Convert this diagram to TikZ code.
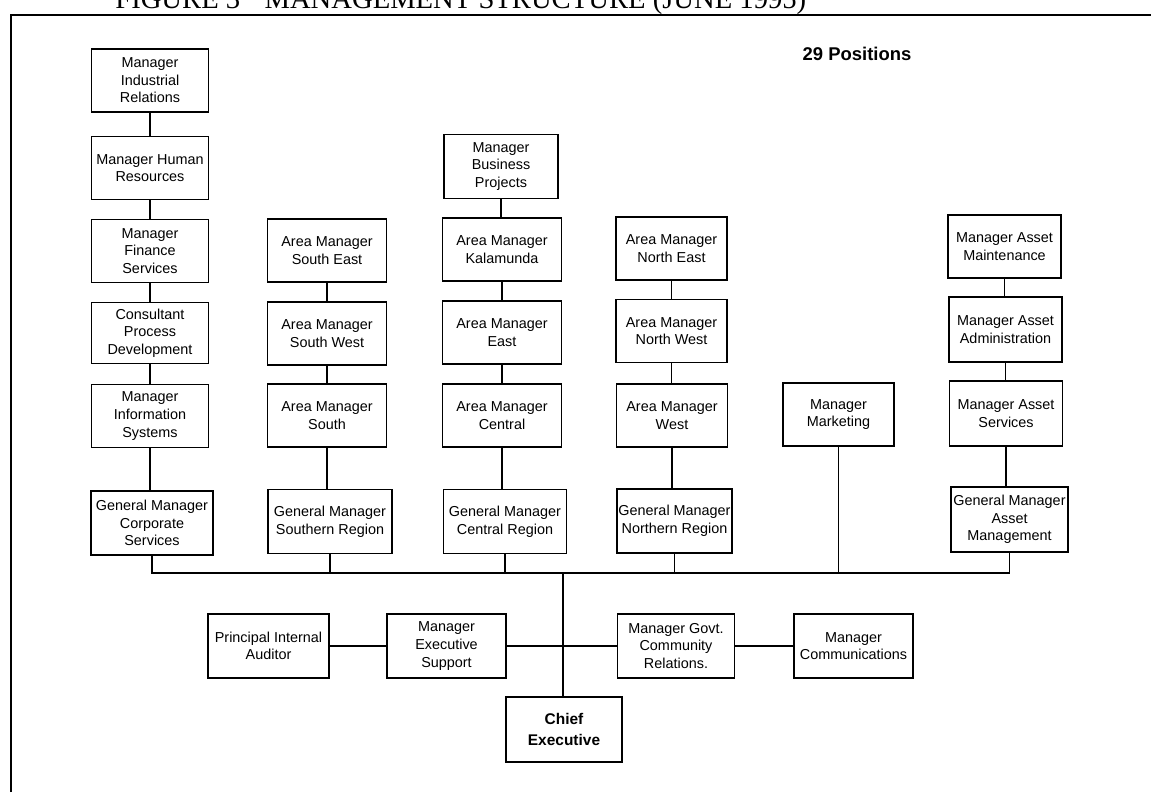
\documentclass[tikz,border=0pt]{standalone}
\usepackage{fontspec}
\setmainfont{Liberation Sans}
\newfontfamily\titlefont{Liberation Serif}

\begin{document}
\begin{tikzpicture}[x=0.02cm, y=-0.02cm,
        post/.style={draw, line width=1pt, align=center, inner sep=1pt, minimum width=2.36cm, minimum height=1.26cm, font=\fontsize{8.2}{10}\selectfont},
        wire/.style={line width=0.8pt}]
        \useasboundingbox (0, 0) rectangle (1151, 792);
        % Frame and headings:
        \draw[line width=1.4pt] (11, 792) -- (11, 15) -- (1151, 15);
        \node[anchor=base west, inner sep=0pt, font=\titlefont\fontsize{16.3}{18}\selectfont] (title) at (115, 8){FIGURE 3\hspace{0.6em} MANAGEMENT STRUCTURE (JUNE 1995)};
        \node[font=\fontsize{10.5}{12}\bfseries\selectfont] (count) at (857, 54){29 Positions};
        % Corporate services column:
        \node[post, minimum width=2.34cm] (ir) at (150, 80.5){Manager\\Industrial\\Relations};
        \node[post, minimum width=2.34cm] (hr) at (150, 168){Manager Human\\Resources};
        \node[post, minimum width=2.34cm] (fin) at (150, 251){Manager\\Finance\\Services};
        \node[post, minimum width=2.34cm, minimum height=1.22cm] (cpd) at (150, 333){Consultant\\Process\\Development};
        \node[post, minimum width=2.34cm] (mis) at (150, 416){Manager\\Information\\Systems};
        \node[post, minimum width=2.44cm, minimum height=1.28cm] (gmcs) at (152, 523){General Manager\\Corporate\\Services};
        % Southern region:
        \node[post, minimum width=2.38cm] (se) at (327, 250.5){Area Manager\\South East};
        \node[post, minimum width=2.38cm] (sw) at (327, 333.5){Area Manager\\South West};
        \node[post, minimum width=2.38cm] (so) at (327, 415.5){Area Manager\\South};
        \node[post, minimum width=2.48cm, minimum height=1.28cm] (gmsr) at (330, 521.5){General Manager\\Southern Region};
        % Central region:
        \node[post, minimum width=2.28cm, minimum height=1.28cm] (bp) at (501, 166.5){Manager\\Business\\Projects};
        \node[post, minimum width=2.38cm] (kal) at (502, 249.5){Area Manager\\Kalamunda};
        \node[post, minimum width=2.38cm] (ea) at (502, 332.5){Area Manager\\East};
        \node[post, minimum width=2.38cm] (ce) at (502, 415.5){Area Manager\\Central};
        \node[post, minimum width=2.46cm, minimum height=1.28cm] (gmcr) at (505, 521.5){General Manager\\Central Region};
        % Northern region:
        \node[post, minimum width=2.22cm] (ne) at (671.5, 248.5){Area Manager\\North East};
        \node[post, minimum width=2.22cm] (nw) at (671.5, 331){Area Manager\\North West};
        \node[post, minimum width=2.22cm] (we) at (672, 415.5){Area Manager\\West};
        \node[post, minimum width=2.30cm, minimum height=1.28cm] (gmnr) at (674.5, 521){General Manager\\Northern Region};
        % Marketing:
        \node[post, minimum width=2.22cm] (mkt) at (838.5, 414.5){Manager\\Marketing};
        % Asset management:
        \node[post, minimum width=2.26cm] (am) at (1004.5, 246.5){Manager Asset\\Maintenance};
        \node[post, minimum width=2.26cm, minimum height=1.30cm] (aa) at (1005.5, 329.5){Manager Asset\\Administration};
        \node[post, minimum width=2.26cm, minimum height=1.30cm] (as) at (1006, 413.5){Manager Asset\\Services};
        \node[post, minimum width=2.34cm, minimum height=1.30cm] (gmam) at (1009.5, 519.5){General Manager\\Asset\\Management};
        % Executive row:
        \node[post, minimum width=2.42cm, minimum height=1.28cm] (pia) at (268.5, 646){Principal Internal\\Auditor};
        \node[post, minimum width=2.38cm, minimum height=1.28cm] (mes) at (446.5, 646){Manager\\Executive\\Support};
        \node[post, minimum width=2.34cm, minimum height=1.28cm] (mgc) at (676, 646){Manager Govt.\\Community\\Relations.};
        \node[post, minimum width=2.38cm, minimum height=1.28cm] (mc) at (853.5, 646){Manager\\Communications};
        \node[post, minimum width=2.32cm, minimum height=1.30cm, font=\fontsize{8.8}{11.5}\bfseries\selectfont] (chief) at (564, 729.5){Chief\\Executive};
        \coordinate (bus) at (563, 573);
        % Wires:
        \draw[wire] (ir.south) -- (ir.south |- hr.north);
        \draw[wire] (hr.south) -- (hr.south |- fin.north);
        \draw[wire] (fin.south) -- (fin.south |- cpd.north);
        \draw[wire] (cpd.south) -- (cpd.south |- mis.north);
        \draw[wire] (mis.south) -- (mis.south |- gmcs.north);
        \draw[wire] (se.south) -- (se.south |- sw.north);
        \draw[wire] (sw.south) -- (sw.south |- so.north);
        \draw[wire] (so.south) -- (so.south |- gmsr.north);
        \draw[wire] (bp.south) -- (bp.south |- kal.north);
        \draw[wire] (kal.south) -- (kal.south |- ea.north);
        \draw[wire] (ea.south) -- (ea.south |- ce.north);
        \draw[wire] (ce.south) -- (ce.south |- gmcr.north);
        \draw[wire] (ne.south) -- (ne.south |- nw.north);
        \draw[wire] (nw.south) -- (nw.south |- we.north);
        \draw[wire] (we.south) -- (we.south |- gmnr.north);
        \draw[wire] (am.south) -- (am.south |- aa.north);
        \draw[wire] (aa.south) -- (aa.south |- as.north);
        \draw[wire] (as.south) -- (as.south |- gmam.north);
        \draw[wire] (gmcs.south) |- (gmam.south |- bus) -- (gmam.south);
        \draw[wire] (gmsr.south) -- (gmsr.south |- bus);
        \draw[wire] (gmcr.south) -- (gmcr.south |- bus);
        \draw[wire] (gmnr.south) -- (gmnr.south |- bus);
        \draw[wire] (mkt.south) -- (mkt.south |- bus);
        \draw[wire] (bus) -- (bus |- chief.north);
        \draw[wire] (pia.east) -- (mes.west);
        \draw[wire] (mes.east) -- (mgc.west);
        \draw[wire] (mgc.east) -- (mc.west);
\end{tikzpicture}
\end{document}
